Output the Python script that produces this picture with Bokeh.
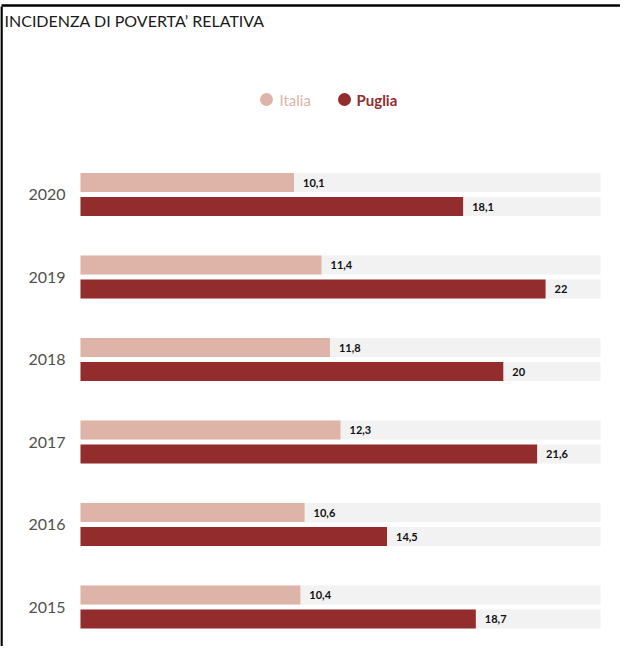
from bokeh.plotting import figure
from bokeh.models import Range1d, ColumnDataSource
from bokeh.core.properties import value
from bokeh.embed import file_html
from bokeh.resources import INLINE

# ---- data ----
years = ["2020", "2019", "2018", "2017", "2016", "2015"]
italia = [10.1, 11.4, 11.8, 12.3, 10.6, 10.4]
puglia = [18.1, 22, 20, 21.6, 14.5, 18.7]
axis_max = 24.6
series_names = ["Italia", "Puglia"]
title_text = "INCIDENZA DI POVERTA\u2019 RELATIVA"

# ---- style / layout ----
C_IT = "#DFB4A8"
C_PU = "#922C2D"
C_BG = "#F2F2F2"
FONT = "Lato"
W, H = 620, 646
X0_PX = 80          # pixel where value 0 sits
SCALE = 21.14       # pixels per unit
ROW0 = 182          # Italia bar centre of first row (px from top)
ROW_STEP = 82.5
BAR_GAP = 24
BAR_H = 19

def px2v(px):
    return (px - X0_PX) / SCALE

def fmt(v):
    return f"{v:g}".replace(".", ",")

p = figure(width=W, height=H, output_backend="svg", toolbar_location=None,
           x_range=Range1d(px2v(0), px2v(W)), y_range=Range1d(H, 0),
           x_axis_location=None, y_axis_location=None, min_border=0)
p.grid.visible = False
p.outline_line_color = None
p.background_fill_color = "white"
p.border_fill_color = "white"

y_it = [ROW0 + i * ROW_STEP for i in range(len(years))]
y_pu = [y + BAR_GAP for y in y_it]
y_year = [(a + b) / 2 for a, b in zip(y_it, y_pu)]

src = ColumnDataSource(dict(
    years=years, italia=italia, puglia=puglia,
    y_it=y_it, y_pu=y_pu, y_year=y_year,
    bg=[axis_max] * len(years),
    lab_it=[fmt(v) for v in italia], lab_pu=[fmt(v) for v in puglia],
))

# background tracks
p.hbar(y="y_it", right="bg", left=0, height=BAR_H, source=src, color=C_BG, line_color=None)
p.hbar(y="y_pu", right="bg", left=0, height=BAR_H, source=src, color=C_BG, line_color=None)
# bars
p.hbar(y="y_it", right="italia", left=0, height=BAR_H, source=src, color=C_IT, line_color=None)
p.hbar(y="y_pu", right="puglia", left=0, height=BAR_H, source=src, color=C_PU, line_color=None)

# value labels
for xcol, ycol, lcol in (("italia", "y_it", "lab_it"), ("puglia", "y_pu", "lab_pu")):
    p.text(x=xcol, y=ycol, text=lcol, source=src, x_offset=9,
           text_font=value(FONT), text_font_style="bold", text_font_size="11px",
           text_color="#111111", text_baseline="middle", text_align="left")

# year labels
p.text(x=0, y="y_year", text="years", source=src, x_offset=-15,
       text_font=value(FONT), text_font_size="16px", text_color="#505050",
       text_baseline="middle", text_align="right")

# title
p.text(x=[px2v(4)], y=[20], text=[title_text], text_font=value(FONT),
       text_font_size="16px", text_color="#1a1a1a", text_baseline="middle",
       text_align="left")

# legend
leg_y = 99
p.scatter(x=[px2v(266), px2v(344)], y=[leg_y, leg_y], size=13,
          color=[C_IT, C_PU], line_color=None, marker="circle")
p.text(x=[px2v(279)], y=[leg_y], text=[series_names[0]], text_font=value(FONT),
       text_font_size="15px", text_color=C_IT, text_baseline="middle")
p.text(x=[px2v(356)], y=[leg_y], text=[series_names[1]], text_font=value(FONT),
       text_font_size="15px", text_font_style="bold", text_color=C_PU,
       text_baseline="middle")

# frame lines (top and left)
p.segment(x0=[px2v(1), px2v(1)], y0=[6, 5], x1=[px2v(1), px2v(W)], y1=[H, 5],
          line_color="black", line_width=2.5)

open("out.html", "w").write(file_html(p, INLINE))
